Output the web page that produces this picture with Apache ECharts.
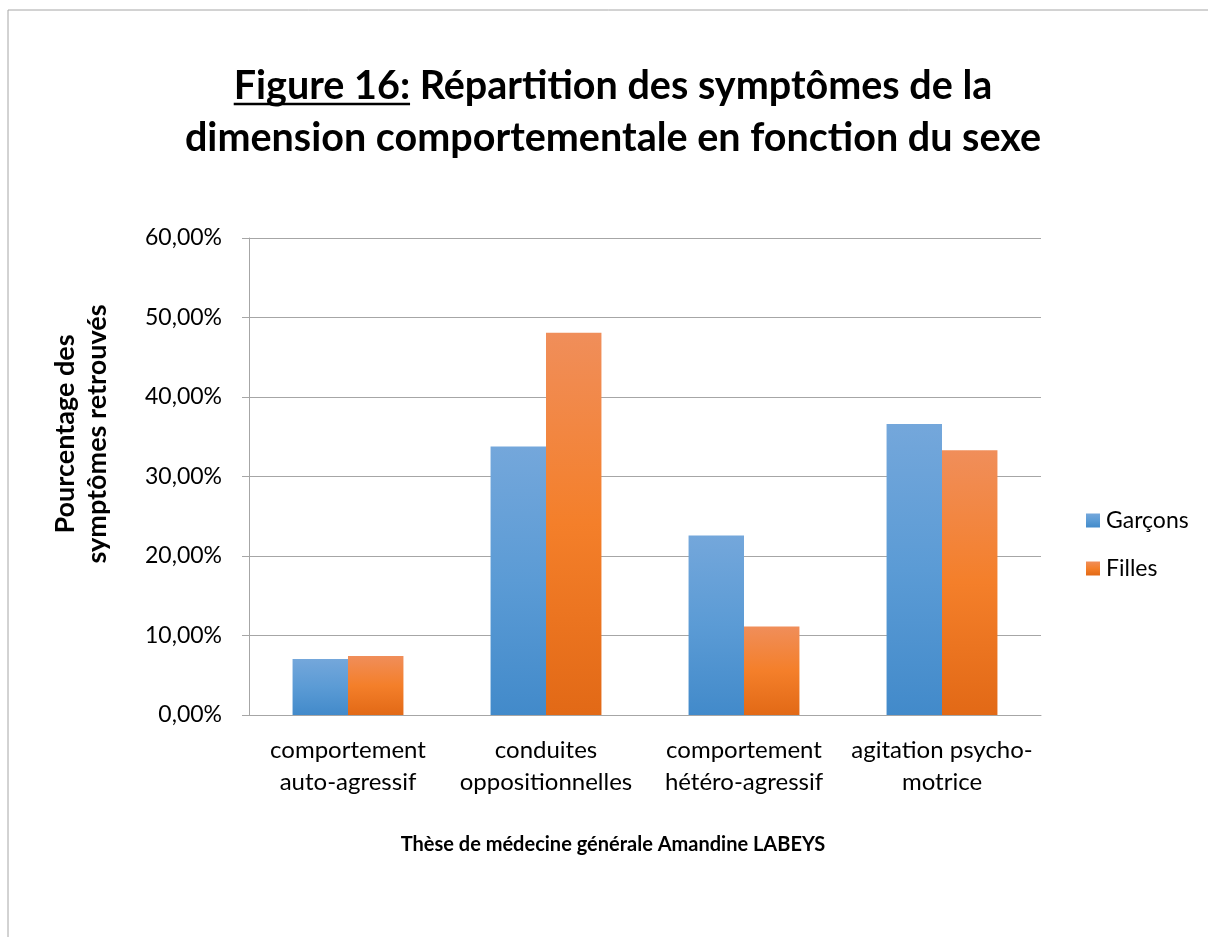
<!DOCTYPE html>
<html>
<head>
<meta charset="utf-8">
<script src="https://cdn.jsdelivr.net/npm/echarts@6/dist/echarts.min.js"></script>
<style>
  html, body { margin: 0; padding: 0; background: #fff; }
  #chart { width: 1208px; height: 937px; }
</style>
</head>
<body>
<div id="chart"></div>
<script>
const categories = [
    "comportement\nauto-agressif",
    "conduites\noppositionnelles",
    "comportement\nhétéro-agressif",
    "agitation psycho-\nmotrice",
];
const garcons = [7.04, 33.76, 22.57, 36.6];
const filles = [7.42, 48.08, 11.14, 33.3];
const yTicks = [0, 10, 20, 30, 40, 50, 60];

const font = "Lato, 'Open Sans', sans-serif";

const blueGrad = new echarts.graphic.LinearGradient(0, 0, 0, 1, [
    { offset: 0, color: "#74A7DB" },
    { offset: 0.5, color: "#5B9BD5" },
    { offset: 1, color: "#428ACA" },
]);
const orangeGrad = new echarts.graphic.LinearGradient(0, 0, 0, 1, [
    { offset: 0, color: "#F08E5A" },
    { offset: 0.5, color: "#F47F2A" },
    { offset: 1, color: "#E26916" },
]);

const chart = echarts.init(document.getElementById("chart"));

const pct = (v) => v.toFixed(2).replace(".", ",") + "%";

const titleLine1 = "Figure 16: Répartition des symptômes de la";
const titleLine2 = "dimension comportementale en fonction du sexe";
const titleFont = "bold 39.5px " + font;

// underline under "Figure 16:" (measured from the text itself)
const ctx = document.createElement("canvas").getContext("2d");
ctx.font = titleFont;
const w1 = ctx.measureText(titleLine1).width;
const wu = ctx.measureText("Figure 16:").width;
const ux = 613 - w1 / 2;

const option = {
    animation: false,
    backgroundColor: "#fff",
    textStyle: { fontFamily: font },
    graphic: [
        {
            type: "rect",
            shape: { x: 8, y: 10, width: 1220, height: 940 },
            style: { fill: "none", stroke: "#A6A6A6", lineWidth: 1 },
            silent: true,
        },
        {
            type: "text",
            x: 613,
            y: 60,
            style: {
                text: titleLine1 + "\n" + titleLine2,
                font: titleFont,
                fill: "#000",
                align: "center",
                lineHeight: 52,
            },
        },
        {
            type: "line",
            shape: { x1: ux, y1: 104, x2: ux + wu, y2: 104 },
            style: { stroke: "#000", lineWidth: 2.5 },
            silent: true,
        },
        {
            type: "text",
            x: 81,
            y: 434,
            rotation: Math.PI / 2,
            style: {
                text: "Pourcentage des\nsymptômes retrouvés",
                font: "bold 27px " + font,
                fill: "#000",
                align: "center",
                verticalAlign: "middle",
                lineHeight: 32,
            },
        },
        {
            type: "text",
            x: 613,
            y: 845,
            style: {
                text: "Thèse de médecine générale Amandine LABEYS",
                font: "bold 20px " + font,
                fill: "#000",
                align: "center",
                verticalAlign: "middle",
            },
        },
    ],
    legend: {
        orient: "vertical",
        left: 1081,
        top: 504,
        itemWidth: 14,
        itemHeight: 14,
        itemGap: 25,
        icon: "rect",
        textStyle: { fontSize: 23, color: "#000", fontFamily: font, padding: [0, 0, 0, 1] },
        data: ["Garçons", "Filles"],
    },
    grid: {
        left: 249,
        right: 167,
        top: 238,
        bottom: 222,
    },
    xAxis: {
        type: "category",
        data: categories,
        axisLine: { lineStyle: { color: "#A6A6A6", width: 1 } },
        axisTick: { show: false },
        axisLabel: {
            color: "#000",
            fontSize: 24,
            lineHeight: 32,
            margin: 19,
            interval: 0,
            fontFamily: font,
        },
    },
    yAxis: {
        type: "value",
        min: yTicks[0],
        max: yTicks[yTicks.length - 1],
        interval: 10,
        axisLine: { show: true, lineStyle: { color: "#A6A6A6" } },
        axisTick: { show: true, length: 7, lineStyle: { color: "#A6A6A6" } },
        splitLine: { lineStyle: { color: "#A6A6A6", width: 1 } },
        axisLabel: {
            color: "#000",
            fontSize: 23,
            margin: 27,
            fontFamily: font,
            formatter: pct,
        },
    },
    series: [
        {
            name: "Garçons",
            type: "bar",
            data: garcons,
            barGap: "0%",
            barCategoryGap: "44%",
            itemStyle: { color: blueGrad },
        },
        {
            name: "Filles",
            type: "bar",
            data: filles,
            itemStyle: { color: orangeGrad },
        },
    ],
};

chart.setOption(option);
</script>
</body>
</html>
